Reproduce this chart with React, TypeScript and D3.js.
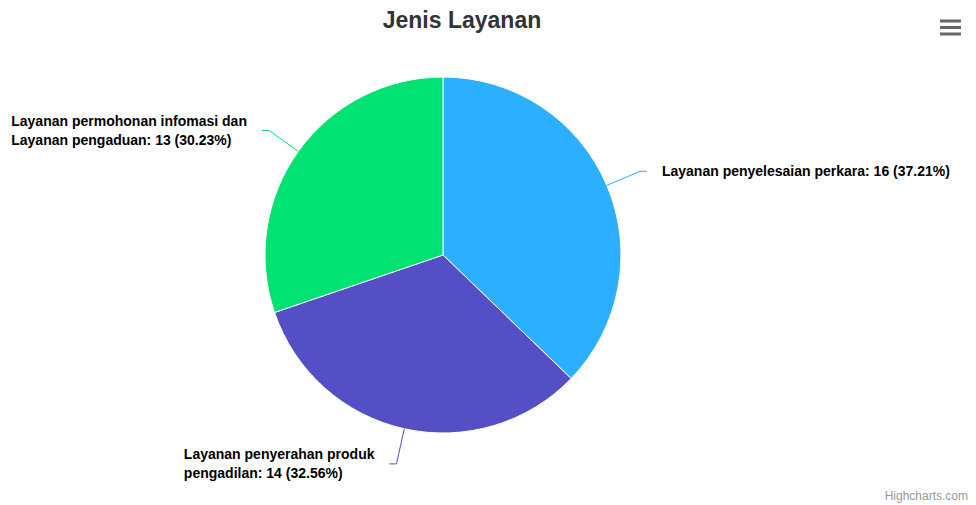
import React, { useEffect, useRef } from 'react';
import * as d3 from 'd3';

const title = 'Jenis Layanan';
const categories = [
  'Layanan penyelesaian perkara',
  'Layanan penyerahan produk pengadilan',
  'Layanan permohonan infomasi dan Layanan pengaduan',
];
const values = [16, 14, 13];
const colors = ['#2caffe', '#544fc5', '#00e272'];
const credits = 'Highcharts.com';

const W = 976;
const H = 505;

export default function App() {
  const ref = useRef<SVGSVGElement | null>(null);

  useEffect(() => {
    const svg = d3.select(ref.current);
    svg.selectAll('*').remove();

    const cx = 443;
    const cy = 255;
    const r = 178;
    const crookR = 214;
    const fontFamily = '"Liberation Sans", Arial, Helvetica, sans-serif';

    const total = d3.sum(values);
    const data = categories.map((c, i) => ({ name: c, value: values[i], color: colors[i] }));

    const pie = d3.pie<any>().sort(null).value((d: any) => d.value);
    const arcs = pie(data);
    const arc = d3.arc<any>().innerRadius(0).outerRadius(r);

    const g = svg.append('g').attr('transform', `translate(${cx},${cy})`);
    g.selectAll('path.slice')
      .data(arcs)
      .enter()
      .append('path')
      .attr('class', 'slice')
      .attr('d', arc as any)
      .attr('fill', (d: any) => d.data.color)
      .attr('stroke', '#ffffff')
      .attr('stroke-width', 1)
      .attr('stroke-linejoin', 'round');

    const labelsG = svg.append('g');

    arcs.forEach((a: any) => {
      const mid = (a.startAngle + a.endAngle) / 2;
      const sx = cx + r * Math.sin(mid);
      const sy = cy - r * Math.cos(mid);
      const kx = cx + crookR * Math.sin(mid);
      const ky = cy - crookR * Math.cos(mid);
      const right = Math.sin(mid) >= 0;
      const ex = kx + (right ? 7 : -7);
      const anchorX = kx + (right ? 22 : -22);

      labelsG
        .append('path')
        .attr('d', `M${sx},${sy}L${kx},${ky}L${ex},${ky}`)
        .attr('fill', 'none')
        .attr('stroke', a.data.color)
        .attr('stroke-width', 1);

      const pct = ((a.data.value / total) * 100).toFixed(2);
      const full = `${a.data.name}: ${a.data.value} (${pct}%)`;
      const maxW = right ? W - anchorX - 8 : Math.min(anchorX - 8, 250);

      const text = labelsG
        .append('text')
        .attr('font-family', fontFamily)
        .attr('font-size', 14)
        .attr('font-weight', 'bold')
        .attr('fill', '#000000');

      // word wrap using measurement
      const words = full.split(' ');
      const lines: string[] = [];
      let cur = '';
      const probe = text.append('tspan');
      words.forEach((w) => {
        const test = cur ? cur + ' ' + w : w;
        probe.text(test);
        const len = (probe.node() as SVGTSpanElement).getComputedTextLength();
        if (len > maxW && cur) {
          lines.push(cur);
          cur = w;
        } else {
          cur = test;
        }
      });
      if (cur) lines.push(cur);
      probe.remove();

      const lineH = 19;
      const widths: number[] = [];
      const tspans = lines.map((l) => {
        const t = text.append('tspan').text(l);
        widths.push((t.node() as SVGTSpanElement).getComputedTextLength());
        return t;
      });
      const bw = d3.max(widths) || 0;
      const x0 = right ? anchorX : anchorX - bw;
      const top = ky - (lines.length * lineH) / 2;
      tspans.forEach((t, i) => {
        t.attr('x', x0).attr('y', top + i * lineH + lineH / 2 + 5);
      });
    });

    // title
    svg
      .append('text')
      .attr('x', 462)
      .attr('y', 28)
      .attr('text-anchor', 'middle')
      .attr('font-family', fontFamily)
      .attr('font-size', 23)
      .attr('font-weight', 'bold')
      .attr('fill', '#333333')
      .text(title);

    // menu icon
    const menu = svg.append('g');
    [21, 27.5, 34].forEach((y) => {
      menu
        .append('line')
        .attr('x1', 940)
        .attr('x2', 961)
        .attr('y1', y)
        .attr('y2', y)
        .attr('stroke', '#666666')
        .attr('stroke-width', 3);
    });

    // credits
    svg
      .append('text')
      .attr('x', 968)
      .attr('y', 500)
      .attr('text-anchor', 'end')
      .attr('font-family', fontFamily)
      .attr('font-size', 12)
      .attr('fill', '#999999')
      .text(credits);
  }, []);

  return (
    <div style={{ position: 'absolute', left: 0, top: 0 }}>
      <svg ref={ref} width={W} height={H} style={{ display: 'block', background: '#ffffff' }} />
    </div>
  );
}
